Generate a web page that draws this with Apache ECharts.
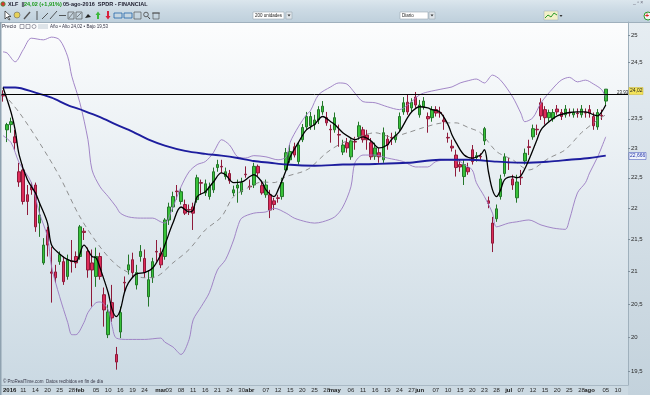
<!DOCTYPE html>
<html><head><meta charset="utf-8">
<script src="https://cdn.jsdelivr.net/npm/echarts@6/dist/echarts.min.js"></script>
<style>html,body{margin:0;padding:0;background:#fff}#c{width:650px;height:395px}</style>
</head><body><div id="c"></div>
<script>
// ---- trading days shown (2016), last five are empty future slots ----
const tradingDays = {
  '01': [4,5,6,7,8,11,12,13,14,15,19,20,21,22,25,26,27,28,29],
  '02': [1,2,3,4,5,8,9,10,11,12,16,17,18,19,22,23,24,25,26,29],
  '03': [1,2,3,4,7,8,9,10,11,14,15,16,17,18,21,22,23,24,28,29,30,31],
  '04': [1,4,5,6,7,8,11,12,13,14,15,18,19,20,21,22,25,26,27,28,29],
  '05': [2,3,4,5,6,9,10,11,12,13,16,17,18,19,20,23,24,25,26,27,31],
  '06': [1,2,3,6,7,8,9,10,13,14,15,16,17,20,21,22,23,24,27,28,29,30],
  '07': [1,5,6,7,8,11,12,13,14,15,18,19,20,21,22,25,26,27,28,29],
  '08': [1,2,3,4,5,8,9,10,11,12]
};

// ---- candle values (XLF) ----
const openVals = [23.93,23.31,23.40,23.19,22.60,22.63,22.22,22.35,22.38,21.76,21.13,21.65,20.99,20.99,21.15,21.15,20.92,21.16,21.23,21.23,
21.63,21.31,21.13,20.92,21.23,20.64,20.04,20.52,19.75,20.08,20.83,21.02,21.18,20.79,21.23,21.20,20.61,20.90,21.31,21.28,
21.23,21.81,22.02,22.28,22.11,22.06,21.98,22.02,22.14,22.42,22.25,22.19,22.30,22.67,22.69,22.52,22.57,22.25,22.33,22.27,
22.56,22.36,22.38,22.69,22.37,22.22,22.22,22.12,22.17,22.19,22.63,22.80,23.02,22.77,23.14,23.36,23.38,23.40,23.48,23.62,
23.52,23.32,23.31,23.23,22.93,23.09,22.85,23.11,23.19,23.31,23.22,23.09,22.86,22.92,22.80,23.15,23.18,23.14,23.33,23.62,
23.79,23.69,23.88,23.57,23.71,23.54,23.52,23.66,23.61,23.48,23.18,23.03,22.88,22.72,22.52,22.67,22.97,22.84,22.86,23.12,
22.12,21.76,21.83,22.19,22.57,22.76,22.48,22.17,22.51,22.78,23.02,23.19,23.32,23.78,23.66,23.52,23.50,23.67,23.61,23.57,
23.61,23.57,23.60,23.57,23.61,23.66,23.54,23.36,23.56,23.81];
const closeVals = [23.90,23.40,23.45,23.09,22.43,22.11,22.11,22.30,21.70,21.89,21.41,21.41,20.97,20.90,21.26,20.84,21.18,21.15,21.13,21.70,
21.61,21.02,21.02,21.23,20.92,20.41,20.38,20.29,19.64,20.37,20.82,21.10,20.98,20.98,21.31,20.98,20.87,21.15,21.30,21.10,
21.81,22.02,22.19,22.27,22.27,21.92,21.97,21.92,22.50,22.41,22.40,22.35,22.60,22.72,22.68,22.60,22.45,22.30,22.38,22.42,
22.55,22.35,22.69,22.58,22.25,22.38,21.97,22.06,22.16,22.42,22.92,22.94,22.88,23.05,23.35,23.54,23.54,23.48,23.66,23.72,
23.43,23.31,23.52,23.22,23.05,23.00,23.12,23.10,23.38,23.14,23.14,22.85,23.00,22.85,23.26,23.05,23.17,23.21,23.54,23.78,
23.62,23.79,23.74,23.74,23.81,23.50,23.66,23.60,23.60,23.45,23.17,23.00,22.67,22.68,22.72,22.60,22.77,22.87,22.85,23.33,
22.08,21.44,21.99,22.48,22.85,22.75,22.38,22.43,22.50,22.91,23.01,23.33,23.31,23.55,23.52,23.61,23.61,23.62,23.54,23.67,
23.60,23.61,23.59,23.67,23.60,23.60,23.38,23.61,23.55,24.02];
const lowVals = [23.80,23.10,23.26,22.97,22.35,22.06,21.89,22.22,21.62,21.54,21.10,21.23,20.52,20.82,21.10,20.79,20.87,20.98,21.05,21.18,
21.49,20.90,20.46,20.76,20.87,20.16,19.99,20.23,19.53,19.99,20.67,20.95,20.90,20.72,21.15,20.90,20.46,20.82,21.15,21.05,
21.18,21.73,21.94,22.14,22.06,21.89,21.89,21.65,22.09,22.22,22.20,22.14,22.25,22.60,22.58,22.47,22.40,22.20,22.09,22.22,
22.50,22.30,22.33,22.53,22.22,22.17,21.84,21.97,22.09,22.14,22.60,22.75,22.84,22.72,23.10,23.31,23.31,23.31,23.41,23.57,
23.38,23.09,23.26,23.02,22.88,22.92,22.80,22.97,23.14,23.09,22.97,22.80,22.80,22.75,22.75,22.97,23.05,23.09,23.28,23.57,
23.57,23.62,23.69,23.52,23.66,23.26,23.45,23.54,23.52,23.31,23.09,22.94,22.52,22.60,22.38,22.55,22.72,22.77,22.80,23.05,
22.00,21.30,21.78,22.14,22.52,22.63,22.30,22.09,22.38,22.72,22.88,23.14,23.22,23.48,23.40,23.45,23.45,23.57,23.48,23.52,
23.54,23.52,23.52,23.52,23.52,23.52,23.31,23.31,23.48,23.74];
const highVals = [24.00,23.43,23.52,23.31,22.75,22.72,22.38,22.42,22.42,22.09,21.52,21.70,21.38,21.10,21.31,21.23,21.26,21.49,21.31,21.73,
21.68,21.37,21.34,21.37,21.29,20.75,20.49,20.79,19.86,20.46,20.92,21.26,21.29,21.10,21.41,21.34,21.02,21.21,21.49,21.37,
21.84,22.09,22.27,22.38,22.33,22.14,22.06,22.09,22.55,22.47,22.47,22.42,22.67,22.80,22.80,22.67,22.63,22.37,22.47,22.50,
22.69,22.47,22.75,22.72,22.43,22.47,22.30,22.17,22.22,22.50,23.00,23.05,23.09,23.10,23.41,23.62,23.62,23.57,23.72,23.81,
23.62,23.40,23.61,23.40,23.14,23.17,23.17,23.19,23.45,23.36,23.31,23.17,23.09,23.00,23.35,23.22,23.26,23.28,23.61,23.88,
23.92,23.86,23.97,23.83,23.88,23.61,23.72,23.72,23.71,23.57,23.26,23.14,22.97,22.80,22.80,22.75,23.05,22.93,22.91,23.36,
22.19,21.86,22.06,22.55,22.91,22.83,22.55,22.55,22.63,22.99,23.14,23.40,23.40,23.86,23.72,23.66,23.67,23.74,23.67,23.74,
23.68,23.68,23.68,23.74,23.68,23.74,23.61,23.67,23.66,24.02];

// ---- indicator lines read at sampled candle positions: [candle index, value] ----
const fastAvg = [[0,24.05],[2,23.61],[3,23.31],[4,22.88],[6,22.47],[8,22.25],[9,22.09],[11,21.76],[12,21.41],[14,21.27],[16,21.18],[18,21.15],
[20,21.41],[22,21.23],[23,21.21],[24,21.05],[26,20.67],[27,20.41],[28,20.31],[29,20.41],[30,20.67],[31,20.82],[33,20.96],[35,20.98],[37,21.05],
[39,21.26],[40,21.41],[42,21.76],[44,22.02],[46,21.94],[47,21.97],[48,22.19],[50,22.27],[52,22.43],[54,22.58],[55,22.55],[57,22.42],[59,22.43],
[61,22.52],[62,22.55],[64,22.43],[65,22.30],[67,22.19],[68,22.30],[70,22.63],[71,22.85],[73,23.09],[75,23.31],[77,23.40],[79,23.54],[81,23.45],
[82,23.40],[84,23.26],[86,23.17],[87,23.14],[89,23.19],[91,23.12],[93,23.00],[95,23.05],[96,23.14],[98,23.28],[100,23.52],[101,23.62],[103,23.71],
[105,23.69],[106,23.66],[108,23.62],[110,23.40],[111,23.22],[112,23.09],[114,22.88],[116,22.83],[118,22.88],[119,22.97],[120,22.60],[121,22.30],
[122,22.19],[123,22.30],[124,22.47],[126,22.52],[127,22.50],[128,22.53],[130,22.80],[132,23.14],[133,23.31],[135,23.45],[137,23.55],[140,23.61],
[142,23.62],[144,23.62],[146,23.57],[147,23.55],[148,23.62],[149,23.74]];
const midAvg = [[0,23.95],[4,23.61],[9,23.09],[14,22.52],[19,21.86],[24,21.38],[28,21.10],[32,20.95],[35,20.90],[38,20.92],[42,21.13],[46,21.34],
[50,21.65],[54,21.86],[57,22.19],[61,22.35],[64,22.43],[67,22.42],[70,22.52],[74,22.60],[76,22.67],[80,22.92],[84,23.09],[88,23.19],[92,23.26],
[96,23.19],[100,23.26],[104,23.35],[109,23.43],[112,23.43],[115,23.35],[118,23.26],[122,22.94],[126,22.80],[130,22.63],[135,22.83],[139,22.97],
[143,23.26],[147,23.48],[149,23.57]];
const longAvg = [[0,24.05],[3,24.05],[8,23.96],[12,23.87],[16,23.74],[20,23.64],[24,23.53],[28,23.40],[32,23.28],[36,23.14],[40,23.04],[45,22.95],
[50,22.90],[54,22.87],[58,22.83],[62,22.78],[66,22.75],[70,22.72],[77,22.70],[84,22.72],[92,22.73],[100,22.75],[108,22.80],[115,22.80],[122,22.77],
[129,22.75],[135,22.77],[140,22.80],[145,22.83],[149,22.87]];
const upperBand = [[0,24.69],[1,24.67],[3,24.51],[5,24.73],[7,24.94],[10,24.91],[12,24.96],[14,24.91],[16,24.60],[17,24.25],[19,23.78],[21,23.14],
[22,22.63],[24,22.35],[26,22.19],[28,22.02],[29,21.92],[31,21.86],[34,21.84],[37,21.84],[39,21.78],[40,21.76],[42,22.02],[44,22.35],[46,22.60],
[48,22.72],[50,22.77],[52,22.92],[53,23.05],[54,23.14],[56,23.05],[58,22.85],[60,22.83],[62,22.87],[65,22.85],[68,22.80],[70,22.85],[71,23.10],
[73,23.36],[75,23.57],[76,23.64],[78,23.92],[81,24.06],[83,24.13],[85,24.11],[87,23.95],[89,23.80],[92,23.78],[95,23.71],[98,23.66],[100,23.74],
[103,23.92],[105,23.97],[109,24.03],[111,24.06],[113,24.13],[115,24.17],[117,24.20],[119,24.13],[121,24.27],[123,24.18],[126,23.88],[128,23.60],
[129,23.45],[131,23.52],[133,23.78],[136,24.04],[138,24.18],[140,24.23],[142,24.15],[144,24.18],[146,24.11],[148,24.01],[149,23.87]];
const lowerBand = [[0,23.21],[2,23.09],[4,22.75],[7,22.42],[9,21.92],[11,21.54],[12,21.07],[14,20.61],[16,20.22],[17,20.04],[18,20.04],[20,20.22],
[21,20.37],[23,20.52],[24,20.53],[26,20.41],[27,20.16],[28,19.99],[31,19.97],[35,19.97],[39,19.99],[40,19.93],[42,19.86],[44,19.75],[46,19.97],
[47,20.26],[49,20.46],[51,20.67],[53,21.02],[55,21.18],[57,21.49],[58,21.70],[59,21.84],[62,21.92],[65,21.94],[67,22.00],[70,21.92],[72,21.84],
[75,21.78],[77,21.76],[79,21.78],[82,21.86],[84,22.02],[86,22.35],[87,22.75],[89,22.88],[92,22.88],[95,22.83],[99,22.77],[102,22.68],[105,22.68],
[107,22.77],[110,22.80],[113,22.77],[114,22.72],[116,22.63],[117,22.42],[119,22.19],[121,21.92],[122,21.70],[125,21.76],[127,21.78],[130,21.81],
[133,21.73],[136,21.68],[139,21.66],[140,21.81],[142,22.25],[144,22.42],[145,22.58],[147,22.85],[149,23.19]];
const resistanceLevel = 23.93;

// ---- tick labels ----
const yTickLabels = [19.5,20,20.5,21,21.5,22,22.5,23,23.5,24.5,25];
const xTickDates = ['01-04','01-11','01-14','01-20','01-25','01-28','02-01','02-05','02-10','02-16','02-19','02-24','03-01','03-03','03-08','03-11','03-16','03-21','03-24','03-30',
'04-01','04-07','04-12','04-15','04-20','04-25','04-28','05-02','05-06','05-11','05-16','05-19','05-24','05-27','06-01','06-07','06-10','06-15','06-20','06-23','06-28',
'07-01','07-07','07-12','07-15','07-20','07-25','07-28','08-01','08-05','08-10'];
const xTickTexts = ['2016','11','14','20','25','28','feb','05','10','16','19','24','mar','03','08','11','16','21','24','30',
'abr','07','12','15','20','25','28','may','06','11','16','19','24','27','jun','07','10','15','20','23','28',
'jul','07','12','15','20','25','28','ago','05','10'];
const boldTexts = ['2016','feb','mar','abr','may','jun','jul','ago'];

// ---- build ----
const categories = [];
Object.keys(tradingDays).forEach(m => tradingDays[m].forEach(d => categories.push(m + '-' + String(d).padStart(2,'0'))));
const tickMap = {};
xTickDates.forEach((d,k) => { tickMap[d] = xTickTexts[k]; });
const L = Math.log;
const candleData = openVals.map((o,k) => [L(o), L(closeVals[k]), L(lowVals[k]), L(highVals[k])]);
const lineData = arr => arr.map(p => [p[0], L(p[1])]);
const fmtPrice = v => { const r = Math.round(Math.exp(v) * 2) / 2; return Number.isInteger(r) ? String(r) : r.toFixed(1).replace('.', ','); };

const chart = echarts.init(document.getElementById('c'), null, {renderer: 'canvas'});
const FONT = 'Liberation Sans, DejaVu Sans, sans-serif';
const G = echarts.graphic.LinearGradient;

const gfx = [
  {type:'rect', z:-20, shape:{x:0,y:0,width:650,height:395}, style:{fill:new G(0,0,0,1,[{offset:0,color:'#ffffff'},{offset:1,color:'#c9d8e2'}])}, silent:true},
  {type:'rect', z:-19, shape:{x:628,y:22,width:22,height:373}, style:{fill:new G(0,0,0,1,[{offset:0,color:'#e6edf2'},{offset:1,color:'#c3d2dc'}])}, silent:true},
  {type:'rect', z:-19, shape:{x:0,y:385,width:628,height:10}, style:{fill:'#cbd9e2'}, silent:true},
  {type:'rect', z:-19, shape:{x:0,y:0,width:650,height:22}, style:{fill:new G(0,0,0,1,[{offset:0,color:'#dbe6ed'},{offset:0.4,color:'#cddbe5'},{offset:1,color:'#bfd0dc'}])}, silent:true},
  {type:'line', z:50, shape:{x1:0,y1:22.5,x2:650,y2:22.5}, style:{stroke:'#9fb0bd',lineWidth:1}, silent:true},
  {type:'rect', z:50, shape:{x:0,y:22,width:1.5,height:373}, style:{fill:'#8fa2b0'}, silent:true},
  // title
  {type:'circle', z:50, shape:{cx:3,cy:4,r:2.2}, style:{fill:'#d33',stroke:'#393',lineWidth:0.8}, silent:true},
  {type:'text', z:50, x:8, y:1.5, style:{text:'XLF  ||', fill:'#223', font:'bold 5.5px ' + FONT}, silent:true},
  {type:'text', z:50, x:24, y:1.5, style:{text:'24,02 (+1,91%)', fill:'#1a9a1a', font:'bold 5.5px ' + FONT}, silent:true},
  {type:'text', z:50, x:63, y:1.5, style:{text:'05-ago-2016  SPDR - FINANCIAL', fill:'#223', font:'bold 5.5px ' + FONT}, silent:true},
  {type:'text', z:50, x:633, y:0, style:{text:'_ ▫ ×', fill:'#667', font:'5px ' + FONT}, silent:true},
  // dropdowns
  {type:'rect', z:50, shape:{x:253,y:12,width:31,height:7}, style:{fill:'#fff',stroke:'#9aa9b4',lineWidth:0.6}, silent:true},
  {type:'text', z:51, x:255, y:13.3, style:{text:'200 unidades', fill:'#222', font:'4.5px ' + FONT}, silent:true},
  {type:'rect', z:50, shape:{x:286,y:12,width:6,height:7}, style:{fill:'#dfe5ea',stroke:'#9aa9b4',lineWidth:0.6}, silent:true},
  {type:'polygon', z:51, shape:{points:[[287.5,14.5],[290.5,14.5],[289,16.5]]}, style:{fill:'#333'}, silent:true},
  {type:'rect', z:50, shape:{x:400,y:12,width:28,height:7}, style:{fill:'#fff',stroke:'#9aa9b4',lineWidth:0.6}, silent:true},
  {type:'text', z:51, x:402, y:13.3, style:{text:'Diario', fill:'#222', font:'4.5px ' + FONT}, silent:true},
  {type:'rect', z:50, shape:{x:429,y:12,width:6,height:7}, style:{fill:'#dfe5ea',stroke:'#9aa9b4',lineWidth:0.6}, silent:true},
  {type:'polygon', z:51, shape:{points:[[430.5,14.5],[433.5,14.5],[432,16.5]]}, style:{fill:'#333'}, silent:true},
  {type:'rect', z:50, shape:{x:544,y:11,width:14,height:9}, style:{fill:'#f2f0c8',stroke:'#9aa9b4',lineWidth:0.5}, silent:true},
  {type:'polyline', z:51, shape:{points:[[545,18],[548,15],[551,17],[554,13],[557,15]]}, style:{stroke:'#2a9a2a',lineWidth:1}, silent:true},
  {type:'polygon', z:51, shape:{points:[[559.5,15],[562.5,15],[561,17]]}, style:{fill:'#333'}, silent:true},
  {type:'circle', z:50, shape:{cx:648,cy:16,r:4}, style:{fill:'#f4f4f4',stroke:'#2a9a2a',lineWidth:1}, silent:true},
  {type:'text', z:51, x:645, y:13, style:{text:'+', fill:'#d22', font:'bold 7px ' + FONT}, silent:true},
  // toolbar icons
  {type:'polygon', z:50, shape:{points:[[5,11],[5,19],[7,17],[9,20],[10,19.4],[8,16.5],[11,16.5]]}, style:{fill:'#fff',stroke:'#222',lineWidth:0.7}, silent:true},
  {type:'circle', z:50, shape:{cx:17,cy:15,r:3}, style:{fill:'#e6d15a',stroke:'#666',lineWidth:0.6}, silent:true},
  {type:'line', z:50, shape:{x1:24,y1:19,x2:30,y2:12}, style:{stroke:'#555',lineWidth:1.4}, silent:true},
  {type:'line', z:50, shape:{x1:37,y1:11,x2:37,y2:20}, style:{stroke:'#333',lineWidth:0.8}, silent:true},
  {type:'line', z:50, shape:{x1:42,y1:19,x2:48,y2:13}, style:{stroke:'#333',lineWidth:0.8}, silent:true},
  {type:'line', z:50, shape:{x1:50,y1:19,x2:57,y2:11}, style:{stroke:'#333',lineWidth:0.8}, silent:true},
  {type:'line', z:50, shape:{x1:59,y1:15.5,x2:66,y2:15.5}, style:{stroke:'#333',lineWidth:0.8}, silent:true},
  {type:'rect', z:50, shape:{x:68,y:12,width:6,height:7}, style:{fill:'none',stroke:'#444',lineWidth:0.6}, silent:true},
  {type:'line', z:50, shape:{x1:69,y1:18,x2:73,y2:13}, style:{stroke:'#444',lineWidth:0.6}, silent:true},
  {type:'rect', z:50, shape:{x:76,y:12,width:6,height:7}, style:{fill:'none',stroke:'#444',lineWidth:0.6}, silent:true},
  {type:'line', z:50, shape:{x1:77,y1:17,x2:81,y2:13}, style:{stroke:'#444',lineWidth:0.6}, silent:true},
  {type:'polygon', z:50, shape:{points:[[85,18],[88,14],[91,17]]}, style:{fill:'#222'}, silent:true},
  {type:'polygon', z:50, shape:{points:[[98,11.5],[95.5,15],[97,15],[97,19],[99,19],[99,15],[100.5,15]]}, style:{fill:'#3cb83c'}, silent:true},
  {type:'polygon', z:50, shape:{points:[[108,19.5],[105.5,16],[107,16],[107,11],[109,11],[109,16],[110.5,16]]}, style:{fill:'#d8203c'}, silent:true},
  {type:'rect', z:50, shape:{x:114,y:13,width:8,height:5}, style:{fill:'none',stroke:'#26a',lineWidth:0.8}, silent:true},
  {type:'rect', z:50, shape:{x:124,y:13,width:8,height:5}, style:{fill:'none',stroke:'#26a',lineWidth:0.8}, silent:true},
  {type:'rect', z:50, shape:{x:134,y:12,width:7,height:7}, style:{fill:'none',stroke:'#444',lineWidth:0.6}, silent:true},
  {type:'circle', z:50, shape:{cx:146,cy:14.5,r:2.3}, style:{fill:'none',stroke:'#444',lineWidth:0.8}, silent:true},
  {type:'line', z:50, shape:{x1:147.8,y1:16.5,x2:150,y2:19}, style:{stroke:'#444',lineWidth:1}, silent:true},
  {type:'rect', z:50, shape:{x:153,y:13,width:6,height:6}, style:{fill:'none',stroke:'#444',lineWidth:0.6}, silent:true},
  {type:'line', z:50, shape:{x1:152,y1:13,x2:160,y2:13}, style:{stroke:'#444',lineWidth:0.8}, silent:true},
  // info row
  {type:'text', z:50, x:2, y:24, style:{text:'Precio', fill:'#334', font:'5px ' + FONT}, silent:true},
  {type:'rect', z:50, shape:{x:20,y:24.5,width:4,height:4}, style:{fill:'none',stroke:'#667',lineWidth:0.6}, silent:true},
  {type:'rect', z:50, shape:{x:26,y:24.5,width:4,height:4}, style:{fill:'none',stroke:'#667',lineWidth:0.6}, silent:true},
  {type:'circle', z:50, shape:{cx:34,cy:26.5,r:2}, style:{fill:'none',stroke:'#667',lineWidth:0.6}, silent:true},
  {type:'rect', z:50, shape:{x:38,y:24,width:10,height:5}, style:{fill:'#dde3e8'}, silent:true},
  {type:'text', z:50, x:50, y:24, style:{text:'Año \u2022 Alto 24,02 \u2022 Bajo 19,53', fill:'#334', font:'4.5px ' + FONT}, silent:true},
  // copyright
  {type:'text', z:50, x:3, y:379.5, style:{text:'\u00a9 ProRealTime.com  Datos recibidos en fin de día', fill:'#334', font:'4.5px ' + FONT}, silent:true},
  // value badges on the right scale
  {type:'text', z:60, x:617, y:90, style:{text:'23,93', fill:'#222', font:'4.5px ' + FONT}, silent:true},
  {type:'rect', z:60, shape:{x:629,y:87.5,width:14,height:7}, style:{fill:'#f3e35a',stroke:'#c9b530',lineWidth:0.5}, silent:true},
  {type:'text', z:61, x:630, y:88.5, style:{text:'24,02', fill:'#222', font:'5px ' + FONT}, silent:true},
  {type:'rect', z:60, shape:{x:629,y:152.5,width:17,height:7}, style:{fill:'#eef2fa',stroke:'#3b4bb8',lineWidth:0.5}, silent:true},
  {type:'text', z:61, x:630, y:153.5, style:{text:'22,666', fill:'#2233aa', font:'5px ' + FONT}, silent:true}
];

const option = {
  animation: false,
  backgroundColor: 'transparent',
  graphic: {elements: gfx},
  grid: {left: 1, right: 22, top: 22, bottom: 10, containLabel: false},
  xAxis: {
    type: 'category', data: categories, boundaryGap: true,
    axisLine: {show: true, lineStyle: {color: '#a9b9c5', width: 1}},
    axisTick: {show: false},
    splitLine: {show: false},
    axisLabel: {
      margin: 2, fontSize: 6, color: '#2a2a2a', fontFamily: FONT,
      alignMinLabel: 'left',
      interval: (idx, val) => tickMap[val] !== undefined,
      formatter: val => { const t = tickMap[val]; if (t === undefined) return ''; return boldTexts.includes(t) ? '{b|' + t + '}' : t; },
      rich: {b: {fontWeight: 'bold', fontSize: 6, color: '#1a1a1a', fontFamily: FONT}}
    }
  },
  yAxis: {
    type: 'value', position: 'right', scale: true,
    min: L(19.31), max: L(25.24),
    axisLine: {show: true, lineStyle: {color: '#9fb0bc', width: 1}},
    axisTick: {show: true, length: 2, lineStyle: {color: '#7f8f9b'}, customValues: yTickLabels.map(L)},
    splitLine: {show: false},
    axisLabel: {
      margin: 3, fontSize: 6, color: '#2a2a2a', fontFamily: FONT,
      showMinLabel: true, showMaxLabel: true,
      customValues: yTickLabels.map(L),
      formatter: v => fmtPrice(v)
    }
  },
  series: [
    {
      type: 'candlestick', data: candleData, barWidth: 3, z: 2,
      itemStyle: {color: '#38c238', color0: '#de2c5a', borderColor: '#23762a', borderColor0: '#8e1a3a', borderWidth: 1},
      silent: true,
      markLine: {
        silent: true, symbol: ['none','none'], animation: false, precision: 10,
        label: {show: false},
        lineStyle: {color: '#000', width: 1, type: 'solid'},
        data: [{yAxis: L(resistanceLevel)}]
      }
    },
    {type:'line', data: lineData(upperBand), smooth: 0.3, symbol:'none', silent:true, z:3, lineStyle:{color:'#9a7ac2', width:0.9}},
    {type:'line', data: lineData(lowerBand), smooth: 0.3, symbol:'none', silent:true, z:3, lineStyle:{color:'#9a7ac2', width:0.9}},
    {type:'line', data: lineData(midAvg), smooth: 0.3, symbol:'none', silent:true, z:3, lineStyle:{color:'#858585', width:0.9, type:[5,4]}},
    {type:'line', data: lineData(longAvg), smooth: 0.3, symbol:'none', silent:true, z:4, lineStyle:{color:'#1d1d9e', width:1.9}},
    {type:'line', data: lineData(fastAvg), smooth: 0.35, symbol:'none', silent:true, z:5, lineStyle:{color:'#000', width:1.3}}
  ]
};
chart.setOption(option);
</script>
</body></html>
